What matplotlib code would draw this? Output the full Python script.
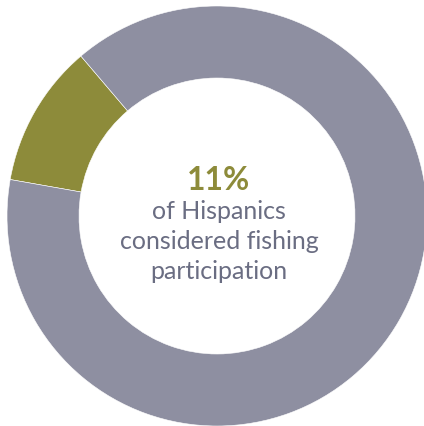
import matplotlib
matplotlib.use("Agg")
import matplotlib.pyplot as plt

# Data
labels = ["Hispanics considered fishing", "Other"]
shares = [11, 89]
colors = ["#8d8b3a", "#8e8fa1"]
headline = "11%"
caption = ["of Hispanics", "considered fishing", "participation"]

W, H = 424, 427
fig = plt.figure(figsize=(W / 100, H / 100), dpi=100, facecolor="white")
ax = fig.add_axes([0, 0, 1, 1])

cx, cy = 217, H - 217
r_out = 210
r_in = 138
ax.pie(shares, colors=colors, startangle=130.4, counterclock=True,
       center=(cx, cy), radius=r_out, frame=True,
       wedgeprops=dict(width=r_out - r_in, edgecolor="white", linewidth=0.4))
ax.set_xlim(0, W)
ax.set_ylim(0, H)
ax.set_aspect("equal")
ax.axis("off")

ax.text(219, H - 190, headline, ha="center", va="baseline", fontsize=23,
        fontweight="bold", color="#8d8b3a", family="Lato")
for i, line in enumerate(caption):
    ax.text(219, H - 219 - i * 30, line, ha="center", va="baseline",
            fontsize=18, color="#6a6d82", family="Lato")

fig.savefig("out.png", dpi=100, facecolor="white")
